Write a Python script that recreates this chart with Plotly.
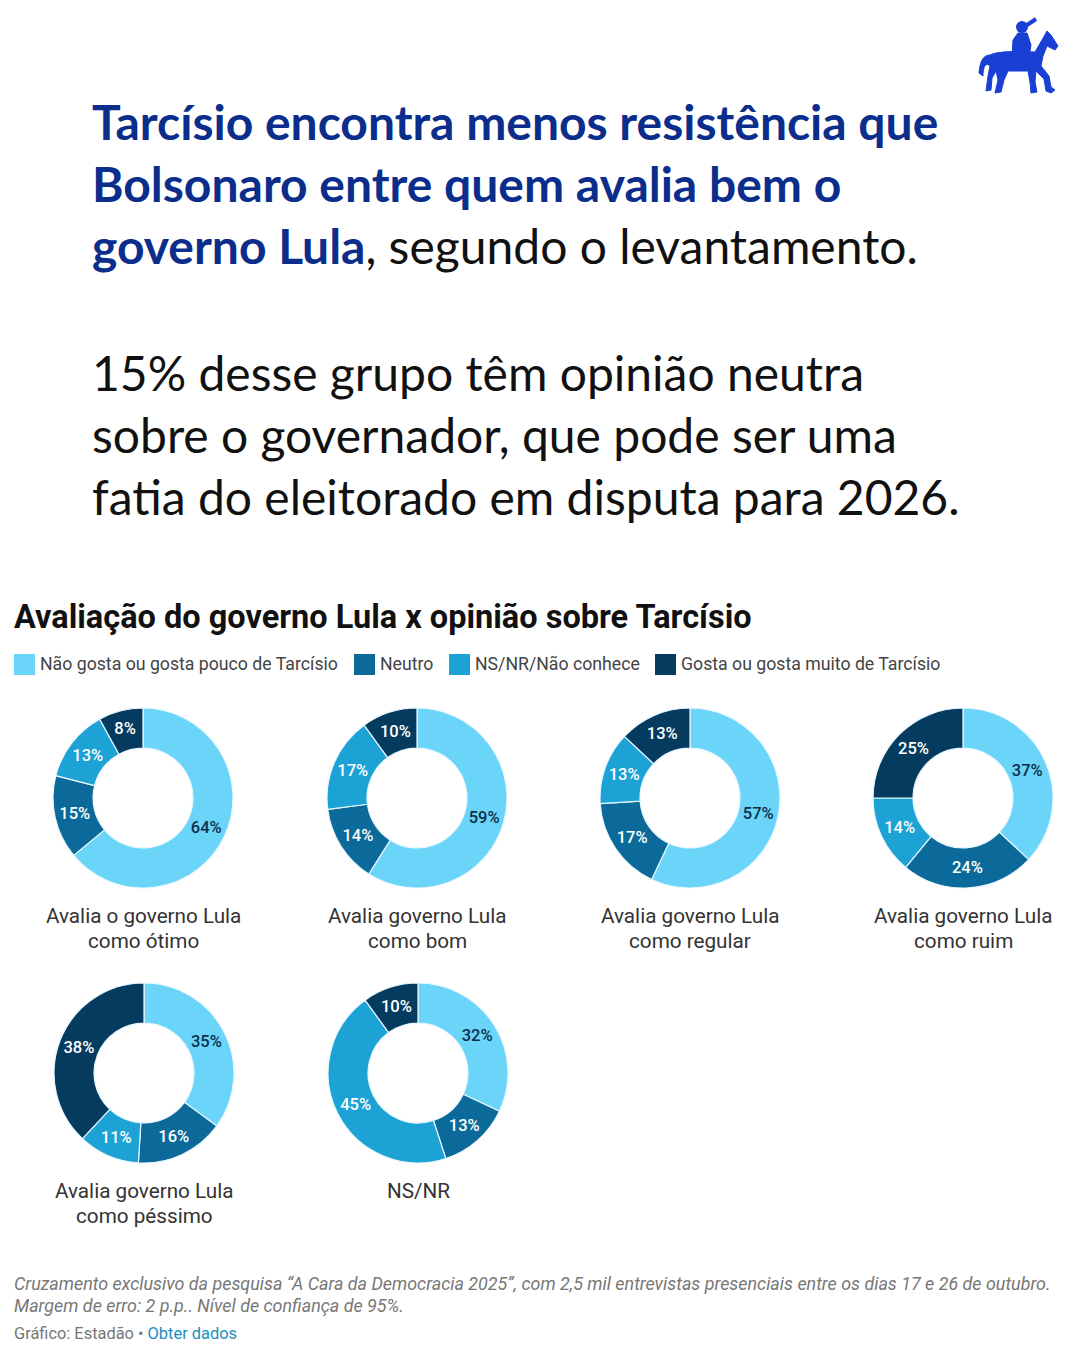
import plotly.graph_objects as go

# ---------------- data ----------------
segments = ["Não gosta ou gosta pouco de Tarcísio", "Neutro", "NS/NR/Não conhece",
            "Gosta ou gosta muito de Tarcísio"]
groups = ["Avalia o governo Lula<br>como ótimo", "Avalia governo Lula<br>como bom",
          "Avalia governo Lula<br>como regular", "Avalia governo Lula<br>como ruim",
          "Avalia governo Lula<br>como péssimo", "NS/NR"]
v_otimo = [64, 15, 13, 8]
v_bom = [59, 14, 17, 10]
v_regular = [57, 17, 13, 13]
v_ruim = [37, 24, 14, 25]
v_pessimo = [35, 16, 11, 38]
v_nsnr = [32, 13, 45, 10]
values = [v_otimo, v_bom, v_regular, v_ruim, v_pessimo, v_nsnr]

# ---------------- style ----------------
W, H = 1080, 1350
OFF = 8  # page body margin offset
colors = ["#6bd4f9", "#0b6a99", "#1ca2d5", "#053b5f"]
text_colors = ["#0b2f4a", "#ffffff", "#ffffff", "#ffffff"]
centers = [(143, 798), (417, 798), (690, 798), (963, 798), (144, 1073), (418, 1073)]
R = 90
BLUE = "#0b2d8c"

fig = go.Figure()

# hidden pixel-coordinate axes for annotations / shapes
fig.add_trace(go.Scatter(x=[OFF, W + OFF], y=[OFF, H + OFF], mode="markers", marker=dict(opacity=0),
                         hoverinfo="skip", showlegend=False))

for i, (vals, (cx, cy)) in enumerate(zip(values, centers)):
    px, py = cx - OFF, cy - OFF
    fig.add_trace(go.Pie(
        labels=segments, values=vals, sort=False, direction="clockwise", rotation=0,
        hole=0.555,
        text=[f"{v}%" for v in vals], textinfo="text", textposition="inside",
        insidetextorientation="horizontal",
        insidetextfont=dict(family="Roboto", size=16.5, color=text_colors, weight=500),
        marker=dict(colors=colors, line=dict(color="#e8f7ff", width=1.2)),
        domain=dict(x=[(px - R) / W, (px + R) / W], y=[1 - (py + R) / H, 1 - (py - R) / H]),
        showlegend=False, hoverinfo="label+percent",
    ))

ann = []
def txt(x, y, s, size, color, family="Lato", xanchor="left", italic=False, weight=None):
    f = dict(family=family, size=size, color=color)
    if italic:
        f["style"] = "italic"
    if weight:
        f["weight"] = weight
    ann.append(dict(x=x, y=y, xref="x", yref="y", text=s, showarrow=False,
                    xanchor=xanchor, yanchor="middle", font=f, align="center"))

# headline
txt(90, 121, "<b>Tarcísio encontra menos resistência que</b>", 48, BLUE)
txt(90, 183, "<b>Bolsonaro entre quem avalia bem o</b>", 48, BLUE)
txt(90, 245, "<b>governo Lula</b><span style='color:#111111'>, segundo o levantamento.</span>", 48, BLUE)
txt(90, 372, "15% desse grupo têm opinião neutra", 48, "#111111")
txt(90, 434, "sobre o governador, que pode ser uma", 48, "#111111")
txt(90, 496, "fatia do eleitorado em disputa para 2026.", 48, "#111111")

# chart title
txt(12, 617, "<b>Avaliação do governo Lula x opinião sobre Tarcísio</b>", 32.5, "#111111", family="Roboto")

# legend
shapes = []
leg_x = [14, 354, 449, 655]
for lx, lab, col in zip(leg_x, segments, colors):
    shapes.append(dict(type="rect", xref="x", yref="y", x0=lx, x1=lx + 21, y0=654, y1=675,
                       fillcolor=col, line=dict(width=0)))
    txt(lx + 24, 664, lab, 17.7, "#444444", family="Roboto")

# group labels
for g, (cx, cy) in zip(groups, centers):
    lines = g.split("<br>")
    for k, ln in enumerate(lines):
        txt(cx, cy + 118 + 25 * k, ln, 20.7, "#333333", family="Roboto", xanchor="center")

# footer
txt(12, 1283, "Cruzamento exclusivo da pesquisa “A Cara da Democracia 2025”, com 2,5 mil entrevistas presenciais entre os dias 17 e 26 de outubro.",
    17.9, "#777777", family="Roboto", italic=True)
txt(12, 1305, "Margem de erro: 2 p.p.. Nível de confiança de 95%.", 17.9, "#777777", family="Roboto", italic=True)
txt(12, 1333, "Gráfico: Estadão • <span style='color:#1a8fc0'>Obter dados</span>", 16.4, "#777777", family="Roboto")

# logo (horse and rider)
LOGO = "#1a3fd4"
horse = ("M 990 55 C 1000 50 1025 52 1035 52 L 1042 40 L 1047 31 L 1051 35 L 1058 46 L 1055 50 "
         "L 1047 46 L 1043 56 L 1041 66 L 1049 76 L 1051 87 L 1055 90 L 1051 93 L 1046 91 L 1044 79 "
         "L 1036 71 L 1035 82 L 1037 92 L 1031 93 L 1030 82 L 1028 71 L 1008 71 L 1004 80 L 1001 92 "
         "L 995 93 L 998 80 L 996 71 L 992 78 L 991 90 L 986 91 L 988 76 L 990 66 "
         "C 986 62 983 66 983 76 L 979 73 C 980 60 984 55 990 55 Z")
rider = "M 1012 56 L 1013 40 L 1018 33 L 1027 33 L 1031 45 L 1029 58 L 1024 68 L 1017 64 Z"
shapes.append(dict(type="path", xref="x", yref="y", path=horse, fillcolor=LOGO, line=dict(color=LOGO, width=1)))
shapes.append(dict(type="path", xref="x", yref="y", path=rider, fillcolor=LOGO, line=dict(color=LOGO, width=1)))
shapes.append(dict(type="circle", xref="x", yref="y", x0=1016, x1=1028, y0=21, y1=33, fillcolor=LOGO, line=dict(width=0)))
shapes.append(dict(type="line", xref="x", yref="y", x0=1024, y0=27, x1=1036, y1=19, line=dict(color=LOGO, width=4)))

fig.update_layout(
    width=W, height=H, margin=dict(l=0, r=0, t=0, b=0),
    paper_bgcolor="white", plot_bgcolor="white",
    xaxis=dict(range=[OFF, W + OFF], visible=False, domain=[0, 1], fixedrange=True),
    yaxis=dict(range=[H + OFF, OFF], visible=False, domain=[0, 1], fixedrange=True),
    annotations=ann, shapes=shapes, showlegend=False,
    uniformtext=dict(minsize=16.5, mode="show"),
)

fig.write_html("out.html")
